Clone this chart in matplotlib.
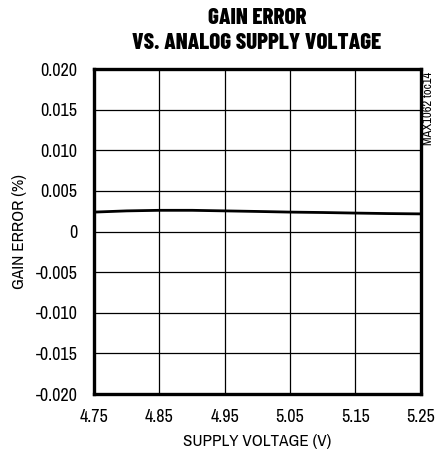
import matplotlib
matplotlib.use("Agg")
import matplotlib.pyplot as plt

# supply voltage (V) and gain error (%)
voltage = [4.75, 4.80, 4.85, 4.90, 4.95, 5.00, 5.05, 5.10, 5.15, 5.20, 5.25]
gain_error = [0.00240, 0.00255, 0.00262, 0.00262, 0.00255, 0.00248, 0.00240,
              0.00235, 0.00228, 0.00222, 0.00218]

x_ticks = [4.75, 4.85, 4.95, 5.05, 5.15, 5.25]
y_ticks = [0.020, 0.015, 0.010, 0.005, 0, -0.005, -0.010, -0.015, -0.020]
y_tick_labels = ["0.020", "0.015", "0.010", "0.005", "0", "-0.005", "-0.010", "-0.015", "-0.020"]

plt.rcParams["font.family"] = ["Archivo Narrow", "DejaVu Sans"]
title_font = ["Barlow Condensed", "DejaVu Sans"]

fig = plt.figure(figsize=(4.37, 4.55), dpi=100)
ax = fig.add_axes([0.215, 0.134, 0.748, 0.714])

ax.plot(voltage, gain_error, color="black", linewidth=2.0)

ax.set_xlim(4.75, 5.25)
ax.set_ylim(-0.020, 0.020)
ax.set_xticks(x_ticks)
ax.set_xticklabels(["{:.2f}".format(v) for v in x_ticks])
ax.set_yticks(y_ticks)
ax.set_yticklabels(y_tick_labels)
ax.tick_params(length=0, labelsize=13)
ax.tick_params(axis="x", pad=11)
ax.tick_params(axis="y", pad=12)
ax.grid(True, color="black", linewidth=0.9)
for s in ax.spines.values():
    s.set_linewidth(2.4)

ax.set_xlabel("SUPPLY VOLTAGE (V)", fontsize=12.3, labelpad=6)
ax.set_ylabel("GAIN ERROR (%)", fontsize=12.3, labelpad=6)

fig.text(0.588, 0.982, "GAIN ERROR", ha="center", va="top", fontsize=16.5,
         fontweight="heavy", family=title_font)
fig.text(0.588, 0.927, "VS. ANALOG SUPPLY VOLTAGE", ha="center", va="top",
         fontsize=16.5, fontweight="heavy", family=title_font)
fig.text(0.993, 0.842, "MAX1062 toc14", rotation=90, ha="right", va="top",
         fontsize=9)

fig.savefig("out.png", dpi=100)
